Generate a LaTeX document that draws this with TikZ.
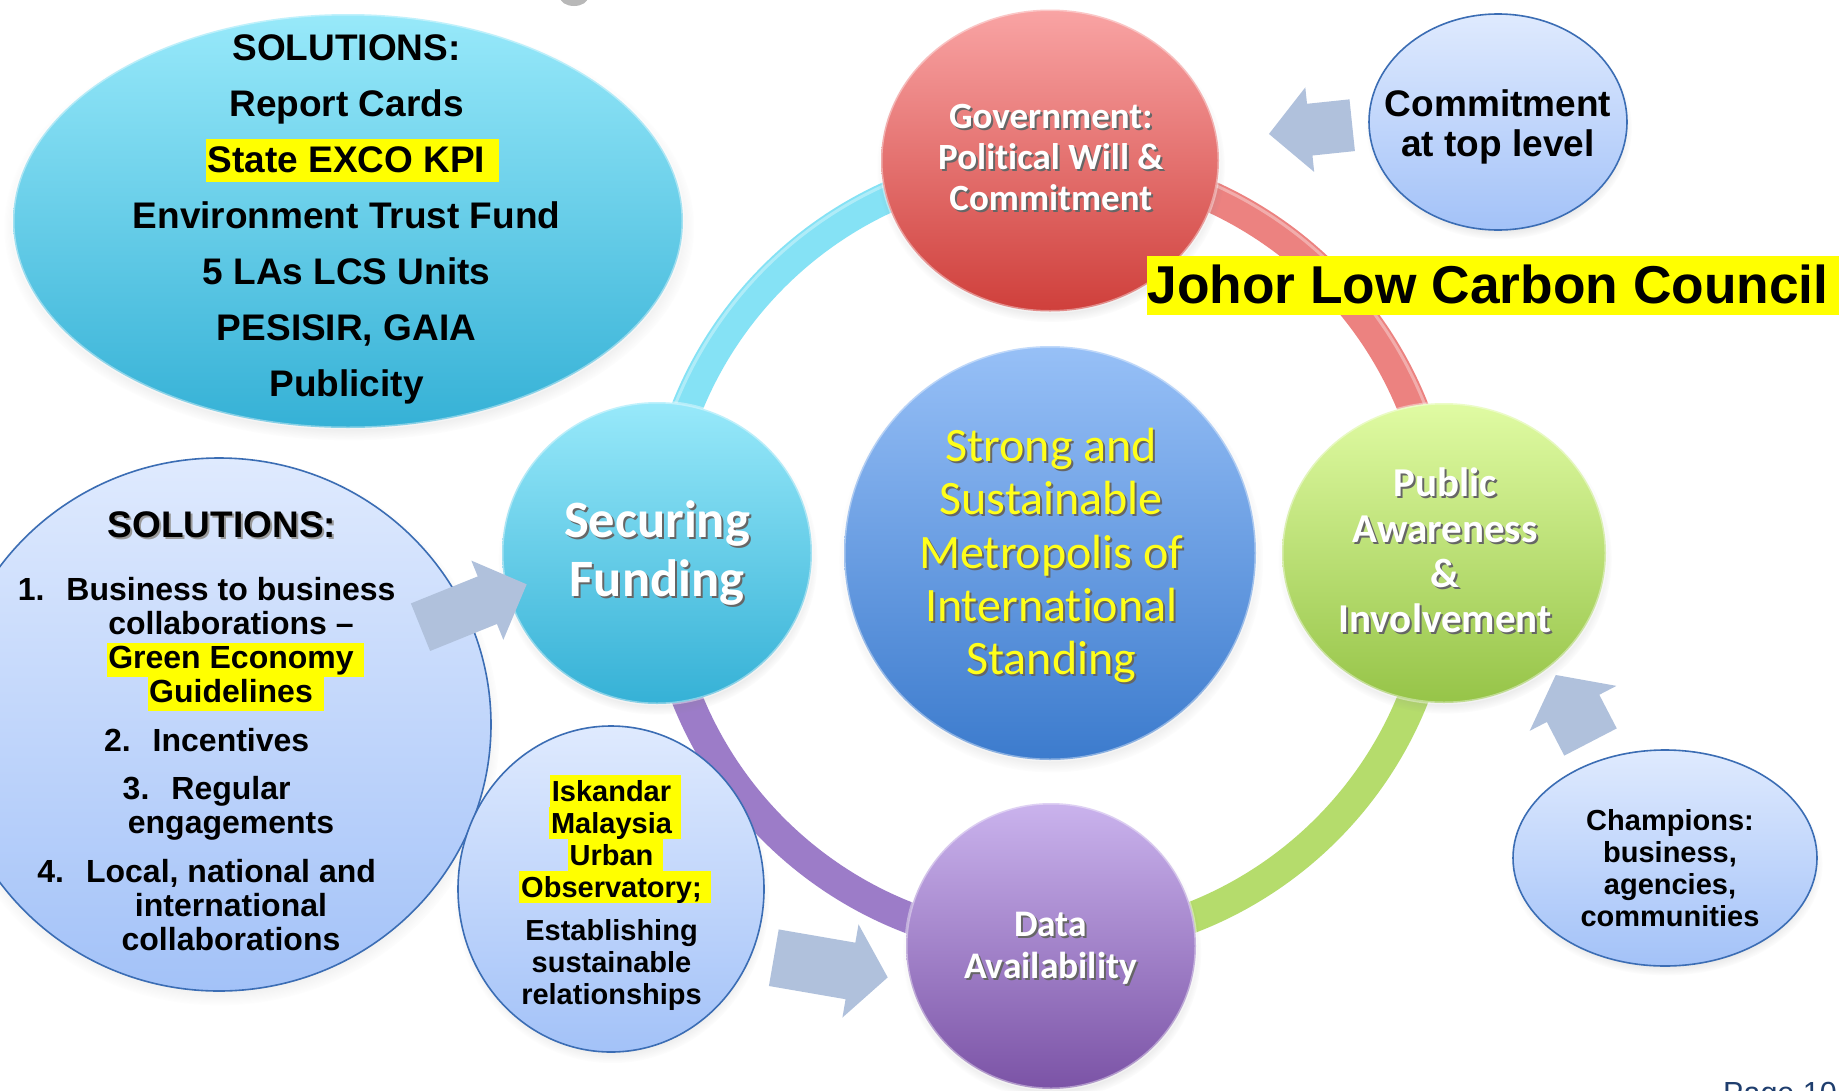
\documentclass[tikz,border=0pt]{standalone}
\usepackage{fontspec}
\setmainfont{Liberation Sans}
\newfontfamily\calib[Ligatures=NoCommon]{Carlito}
\usetikzlibrary{shapes.geometric,shadows,fadings}
\definecolor{cyT}{HTML}{98E9FA}
\definecolor{cyB}{HTML}{35B1D6}
\definecolor{rdT}{HTML}{F9A4A4}
\definecolor{rdB}{HTML}{CF3F3B}
\definecolor{blT}{HTML}{97C0F7}
\definecolor{blB}{HTML}{3C7BCD}
\definecolor{grT}{HTML}{E0FBA3}
\definecolor{grB}{HTML}{96C448}
\definecolor{puT}{HTML}{CAB3ED}
\definecolor{puB}{HTML}{7B53A6}
\definecolor{lbT}{HTML}{DFEAFE}
\definecolor{lbB}{HTML}{A3C2F8}
\definecolor{lbD}{HTML}{3B6DB4}
\definecolor{arC}{HTML}{B0C1DC}
\definecolor{ringC}{HTML}{85E2F5}
\definecolor{ringR}{HTML}{EC8280}
\definecolor{ringG}{HTML}{B5DC6C}
\definecolor{ringP}{HTML}{9C7CC8}
\definecolor{hly}{HTML}{FFFF00}
\definecolor{cyel}{HTML}{FFFF1A}
\definecolor{pageC}{HTML}{1F3E6E}
\newsavebox\hlb
\newcommand\hl[5]{\sbox\hlb{#5}\smash{\rlap{\hspace*{-#1}{\color{hly}\rule[-#3]{\dimexpr\wd\hlb+#1+#2\relax}{\dimexpr#3+#4\relax}}}}\usebox\hlb}
\newcommand\ctab[1]{\begin{tabular}[t]{@{}c@{}}#1\end{tabular}}
\newcommand\sht[3]{\rlap{\kern2pt\raisebox{-2pt}{\color{#2}\begin{tabular}[t]{@{}c@{}}#3\end{tabular}}}{\color{#1}\begin{tabular}[t]{@{}c@{}}#3\end{tabular}}}
\newcommand\barrow[8]{%
 \begin{scope}[shift={(#2,#3)},rotate=#4]
 \coordinate (#1-tail) at (0,0);
 \coordinate (#1-tip) at (#5,0);
 \fill[arrowfill] (0,{-(#6)/2}) -- ({#5-#8},{-(#6)/2}) -- ({#5-#8},{-(#7)/2}) -- (#1-tip) -- ({#5-#8},{(#7)/2}) -- ({#5-#8},{(#6)/2}) -- (0,{(#6)/2}) -- cycle;
 \end{scope}}
\begin{document}
\begin{tikzpicture}[x=1pt,y=-1pt,
  glossy/.style={ellipse, inner sep=0pt, draw=white, draw opacity=0.4, line width=3pt,
    circular drop shadow={shadow xshift=1pt, shadow yshift=-6pt, opacity=0.35, shadow scale=1.03}},
  lightb/.style={ellipse, inner sep=0pt, top color=lbT, bottom color=lbB, draw=lbD, line width=1.6pt,
    circular drop shadow={shadow xshift=1pt, shadow yshift=-6pt, opacity=0.3, shadow scale=1.03}},
  txt/.style={inner sep=0pt, anchor=base},
  ringarc/.style={line width=31pt},
  ringhl/.style={line width=3pt, white, opacity=0.35},
  arrowfill/.style={fill=arC}]
\path[fill=white] (0,0) rectangle (1839,1090);
\useasboundingbox (0,0) rectangle (1839,1090);
% small grey blob at the top edge
\fill[black!28] (574,-3) ellipse [x radius=14, y radius=9];
% top-left solutions ellipse
\node[glossy, top color=cyT, bottom color=cyB, minimum width=670pt, minimum height=414pt] (solT) at (348,221) {};
% ring
\coordinate (rc) at (1050,553);
\draw[ringarc, ringC] (rc) ++(180:391) arc[start angle=180, end angle=270, radius=391];
\draw[ringarc, ringR] (rc) ++(270:391) arc[start angle=270, end angle=360, radius=391];
\draw[ringarc, ringG] (rc) ++(0:391) arc[start angle=0, end angle=90, radius=391];
\draw[ringarc, ringP] (rc) ++(90:391) arc[start angle=90, end angle=180, radius=391];
\draw[ringhl] (rc) ++(180:403) arc[start angle=180, end angle=360, radius=403];
% light blue ellipses
\node[lightb, minimum width=544pt, minimum height=533pt] (solL) at (219,724.5) {};
\node[lightb, minimum width=306pt, minimum height=326pt] (isk) at (611,889) {};
\node[lightb, minimum width=258pt, minimum height=216pt] (commit) at (1498,122) {};
\node[lightb, minimum width=304pt, minimum height=216pt] (champ) at (1665,858) {};
% coloured circles
\node[glossy, top color=rdT, bottom color=rdB, minimum width=338pt, minimum height=302pt] (gov) at (1050,160.5) {};
\node[glossy, top color=cyT, bottom color=cyB, minimum width=310pt, minimum height=302pt] (fund) at (657,553) {};
\node[glossy, top color=blT, bottom color=blB, minimum width=412pt, minimum height=414pt] (metro) at (1050,553) {};
\node[glossy, top color=grT, bottom color=grB, minimum width=324pt, minimum height=300pt] (pub) at (1444,553) {};
\node[glossy, top color=puT, bottom color=puB, minimum width=290pt, minimum height=286pt] (data) at (1051,946) {};
% block arrows
\barrow{arA}{1352.2}{125.2}{186}{83.7}{52}{85}{41}
\barrow{arB}{420.5}{627.2}{22}{114.5}{51.3}{85.4}{42.4}
\barrow{arC}{773.8}{957.7}{-9.8}{115.6}{57.4}{94.6}{37.8}
\barrow{arD}{1590.5}{742}{117.4}{75.5}{59.1}{97.7}{37.6}
% texts
\node[txt, font=\bfseries\fontsize{37}{56}\selectfont] (solTtxt) at (346.5,60.7)
 {\ctab{SOLUTIONS:\\Report Cards\\\hl{1.6pt}{13.8pt}{9pt}{33.4pt}{State EXCO KPI}\\Environment Trust Fund\\5 LAs LCS Units\\PESISIR, GAIA\\Publicity}};
\node[txt, font=\bfseries\fontsize{37}{44}\selectfont] (solLhead) at (222,537.8) {\sht{black}{black!40}{SOLUTIONS:}};
\node[txt, font=\bfseries\fontsize{32}{34.3}\selectfont] (solLtxt) at (231,600)
 {\ctab{\llap{1.\hspace{22pt}}Business to business\\collaborations –\\\hl{1.3pt}{10.3pt}{8.5pt}{26pt}{Green Economy}\\\hl{1.5pt}{10.8pt}{8.5pt}{26pt}{Guidelines}\\[13.8pt]\llap{2.\hspace{22pt}}Incentives\\[13.7pt]\llap{3.\hspace{22pt}}Regular\\engagements\\[14.7pt]\llap{4.\hspace{22pt}}Local, national and\\international\\collaborations}};
\node[txt, font=\bfseries\fontsize{29}{32.1}\selectfont] (isktxt) at (611.5,801)
 {\ctab{\hl{2pt}{9.5pt}{6pt}{26pt}{Iskandar}\\\hl{2pt}{9.5pt}{6pt}{26pt}{Malaysia}\\\hl{2pt}{9.5pt}{6pt}{26pt}{Urban}\\\hl{2pt}{9.5pt}{6pt}{26pt}{Observatory;}\\[10.6pt]Establishing\\sustainable\\relationships}};
\node[txt, font=\bfseries\fontsize{29}{32}\selectfont] (champtxt) at (1670,830) {\ctab{Champions:\\business,\\agencies,\\communities}};
\node[txt, font=\bfseries\fontsize{37}{40}\selectfont] (committxt) at (1498,116.7) {\ctab{Commitment\\at top level}};
\node[txt, font=\calib\bfseries\fontsize{37}{41}\selectfont] (govtxt) at (1050.8,128.3) {\sht{white}{black!60}{Government:\\Political Will \&\\Commitment}};
\node[txt, font=\calib\bfseries\fontsize{52.5}{59}\selectfont] (fundtxt) at (657,537.8) {\sht{white}{black!60}{Securing\\Funding}};
\node[txt, font=\calib\fontsize{48}{53.2}\selectfont] (metrotxt) at (1051.3,461.7) {\sht{cyel}{black!60}{Strong and\\Sustainable\\Metropolis of\\International\\Standing}};
\node[txt, font=\calib\bfseries\fontsize{41}{45.4}\selectfont] (pubtxt) at (1445,496.7) {\sht{white}{black!60}{Public\\Awareness\\\&\\Involvement}};
\node[txt, font=\calib\bfseries\fontsize{37.5}{41.6}\selectfont] (datatxt) at (1050.5,936.7) {\sht{white}{black!60}{Data\\Availability}};
% Johor label
\node[fill=hly, inner sep=0pt, minimum width=720pt, minimum height=59pt, anchor=north west] (johorbox) at (1146.5,256) {};
\node[txt, font=\bfseries\fontsize{53.3}{60}\selectfont] (johor) at (1488,303.3) {Johor Low Carbon Council};
% page number (cut by the edge, as in the reference)
\node[inner sep=0pt, anchor=base west, font=\fontsize{30.5}{36}\selectfont, text=pageC] (page) at (1723,1103) {Page 10};
\end{tikzpicture}
\end{document}
